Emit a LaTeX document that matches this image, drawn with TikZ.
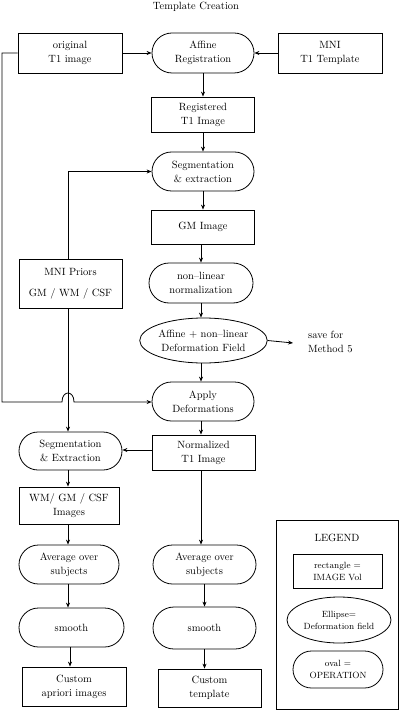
\documentclass[tikz,border=0pt]{standalone}
\usetikzlibrary{shapes.misc,shapes.geometric,arrows.meta}
\begin{document}
\begin{tikzpicture}[x=1pt,y=-1pt,
  every node/.style={font=\fontsize{10.5}{14}\selectfont, align=center, inner sep=0pt},
  box/.style={draw, rectangle, line width=0.8pt},
  opnode/.style={draw, rounded rectangle, line width=0.8pt},
  fieldnode/.style={draw, ellipse, line width=0.8pt},
  arr/.style={line width=0.8pt, -{Stealth[length=5pt,width=4pt]}},
  ln/.style={line width=0.8pt}]
\useasboundingbox (0,0) rectangle (400,711);
\node (title) at (196,7) {Template Creation};
\node[box, minimum width=104pt, minimum height=40pt] (orig) at (70,53) {original\\T1 image};
\node[opnode, minimum width=102pt, minimum height=40pt] (aff) at (203,53) {Affine\\Registration};
\node[box, minimum width=104pt, minimum height=40pt] (mnit) at (330,53) {MNI\\T1 Template};
\node[box, minimum width=103pt, minimum height=35pt] (reg) at (203,114.5) {Registered\\T1 Image};
\node[opnode, minimum width=102pt, minimum height=39pt] (seg1) at (203,171.5) {Segmentation\\\& extraction};
\node[box, minimum width=103pt, minimum height=34pt] (gm) at (203,227) {GM Image};
\node[box, minimum width=103pt, minimum height=49pt] (priors) at (70.5,283.5) {MNI Priors\\[7pt]GM / WM / CSF};
\node[opnode, minimum width=104pt, minimum height=40pt] (nonlin) at (201,283) {non--linear\\normalization};
\node[fieldnode, minimum width=113pt, minimum height=45pt] (def) at (203.5,340.5) {Affine + non--linear\\Deformation Field};
\node[anchor=west, align=left] (save) at (308,342) {save for\\Method 5};
\coordinate (saveend) at (293,343);
\node[opnode, minimum width=102pt, minimum height=39pt] (apply) at (203,401.5) {Apply\\Deformations};
\node[opnode, minimum width=103pt, minimum height=38pt] (seg2) at (70.5,451) {Segmentation\\\& Extraction};
\node[box, minimum width=103pt, minimum height=35pt] (norm) at (203.5,452.5) {Normalized\\T1 Image};
\node[box, minimum width=100pt, minimum height=37pt] (wgc) at (69,505.5) {WM/ GM / CSF\\Images};
\node[opnode, minimum width=100pt, minimum height=39pt] (avg1) at (69,564.5) {Average over\\subjects};
\node[opnode, minimum width=105pt, minimum height=39pt] (sm1) at (71.5,627.5) {smooth};
\node[box, minimum width=104pt, minimum height=39pt] (capr) at (74,686.5) {Custom\\apriori images};
\node[opnode, minimum width=103pt, minimum height=39pt] (avg2) at (204.5,564.5) {Average over\\subjects};
\node[opnode, minimum width=103pt, minimum height=42pt] (sm2) at (204.5,628) {smooth};
\node[box, minimum width=103pt, minimum height=38pt] (ctpl) at (209.5,688) {Custom\\template};
% legend
\node[box, minimum width=122pt, minimum height=189pt] (legend) at (337,614.5) {};
\node (legtitle) at (337,538) {LEGEND};
\node[box, minimum width=89pt, minimum height=34pt, font=\fontsize{9}{12}\selectfont] (lrect) at (337.5,571) {rectangle =\\IMAGE Vol};
\node[fieldnode, minimum width=104pt, minimum height=46pt, font=\fontsize{9}{12}\selectfont] (lell) at (339,620) {Ellipse=\\Deformation field};
\node[opnode, minimum width=90pt, minimum height=37pt, font=\fontsize{9}{12}\selectfont] (loval) at (338,669.5) {oval =\\OPERATION};
% connectors
\draw[arr] (orig.east) -- (aff.west);
\draw[arr] (mnit.west) -- (aff.east);
\draw[arr] (aff.south) -- (aff.south |- reg.north);
\draw[arr] (reg.south) -- (reg.south |- seg1.north);
\draw[arr] (seg1.south) -- (seg1.south |- gm.north);
\draw[arr] (gm.south -| nonlin.north) -- (nonlin.north);
\draw[arr] (nonlin.south) -- (nonlin.south |- def.north);
\draw[arr] (def.south -| nonlin.south) -- (nonlin.south |- apply.north);
\draw[arr] (def.east) -- (saveend);
\draw[arr] (apply.south -| nonlin.south) -- (nonlin.south |- norm.north);
\coordinate (pl) at (68,0);
\draw[arr] (priors.north -| pl) |- (seg1.west);
\draw[arr] (priors.south -| pl) -- (pl |- seg2.north);
\coordinate (lft) at (2,402);
\coordinate (hopA) at (62,402);
\coordinate (hopB) at (74,402);
\draw[arr] (orig.west) -| (lft) -- (hopA) .. controls (62,390) and (74,390) .. (hopB) -- (hopB -| apply.west);
\draw[arr] (norm.west |- 0,450) -- (seg2.east |- 0,450);
\draw[arr] (seg2.south -| pl) -- (pl |- wgc.north);
\draw[arr] (wgc.south -| pl) -- (pl |- avg1.north);
\draw[arr] (avg1.south -| pl) -- (pl |- sm1.north);
\draw[arr] (sm1.south -| 70,0) -- (70,0 |- capr.north);
\draw[arr] (norm.south -| nonlin.south) -- (nonlin.south |- avg2.north);
\draw[arr] (avg2.south) -- (avg2.south |- sm2.north);
\draw[arr] (sm2.south) -- (sm2.south |- ctpl.north);
\end{tikzpicture}
\end{document}
